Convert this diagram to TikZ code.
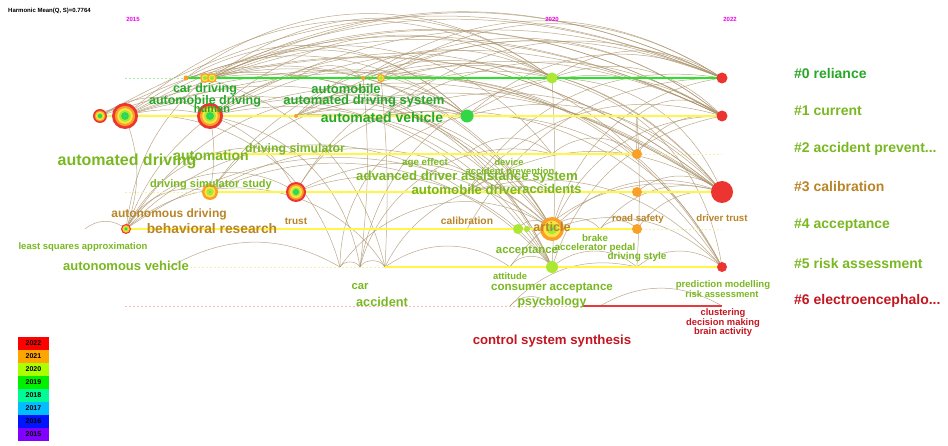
\documentclass[tikz,border=0pt]{standalone}
\usepackage{fontspec}
\setmainfont{Liberation Sans}
\usepackage{tikz}
\usetikzlibrary{positioning}

\definecolor{arcbrown}{RGB}{172,148,108}
\definecolor{kwGreen}{RGB}{40,168,40}
\definecolor{kwLime}{RGB}{122,184,34}
\definecolor{kwBrown}{RGB}{186,132,40}
\definecolor{kwRed}{RGB}{196,22,32}
\definecolor{tlYellow}{RGB}{255,246,70}
\definecolor{tlPale}{RGB}{246,240,170}
\definecolor{lnGreen}{RGB}{40,228,40}
\definecolor{lnPaleGreen}{RGB}{170,236,170}
\definecolor{lnPink}{RGB}{250,185,185}
\definecolor{lnRed}{RGB}{228,60,60}
\definecolor{yrMagenta}{RGB}{235,0,235}
% ring colours
\definecolor{ringR}{RGB}{236,52,48}
\definecolor{ringO}{RGB}{250,160,40}
\definecolor{ringY}{RGB}{250,228,70}
\definecolor{ringL}{RGB}{172,232,50}
\definecolor{ringG}{RGB}{50,214,70}
\definecolor{ringC}{RGB}{20,220,200}
% legend colours
\definecolor{yr22}{RGB}{255,0,0}
\definecolor{yr21}{RGB}{255,165,0}
\definecolor{yr20}{RGB}{170,255,0}
\definecolor{yr19}{RGB}{0,240,0}
\definecolor{yr18}{RGB}{0,250,150}
\definecolor{yr17}{RGB}{0,190,255}
\definecolor{yr16}{RGB}{0,20,255}
\definecolor{yr15}{RGB}{130,0,255}

% tree ring: name, position, radius
\newcommand{\treering}[3]{%
  \node[bub, fill=ringR, minimum size=2*#3pt] (#1) at (#2) {};
  \fill[ringO] (#2) circle[radius=0.78*#3pt];
  \fill[ringY] (#2) circle[radius=0.6*#3pt];
  \fill[ringL] (#2) circle[radius=0.45*#3pt];
  \fill[ringG] (#2) circle[radius=0.3*#3pt];
  \fill[ringC] (#2) circle[radius=0.1*#3pt];}
% orange ring: name, position, radius
\newcommand{\orangering}[3]{%
  \node[bub, fill=ringO, minimum size=2*#3pt] (#1) at (#2) {};
  \fill[ringY] (#2) circle[radius=0.7*#3pt];
  \fill[ringL] (#2) circle[radius=0.45*#3pt];
  \fill[ringC] (#2) circle[radius=0.12*#3pt];}

\begin{document}
\begin{tikzpicture}[x=1pt, y=1pt,
    link/.style={draw=arcbrown, line width=0.5pt, opacity=0.8},
    tline/.style={line width=1.8pt, draw=tlYellow},
    tdash/.style={line width=0.7pt, dash pattern=on 2pt off 2pt},
    bub/.style={circle, inner sep=0pt, draw=none},
    kw/.style={font=\bfseries\fontsize{#1}{#1}\selectfont, inner sep=0pt},
    grn/.style={text=kwGreen},
    lim/.style={text=kwLime},
    brn/.style={text=kwBrown},
    rd/.style={text=kwRed},
    clu/.style={kw=14, anchor=west},
    yearlab/.style={font=\bfseries\fontsize{6}{6}\selectfont, text=yrMagenta, inner sep=0pt},
    legbox/.style={rectangle, minimum width=31pt, minimum height=13pt, inner sep=0pt,
      font=\bfseries\fontsize{7}{7}\selectfont}
  ]

  \fill[white] (0,0) rectangle (948,-446);
  \useasboundingbox (0,0) rectangle (948,-446);

  % ---- timeline positions ----
  \foreach \n/\x/\y in {
      p0s/125/78, p0a/186/78, p0b/205/78, p0c/212/78, p0h/297/78, p0d/363/78, p0e/381/78, p0f/552/78, p0g/722/78,
      p1a/100/116, p1b/125/116, p1c/210/116, p1d/296/116, p1g/382/116, p1e/467/116, p1h/637/116, p1f/722/116,
      p2a/212/154, p2b/296/154, p2f/382/154, p2c/467/154, p2d/552/154, p2e/637/154, p2g/722/154,
      p3s/125/192, p3a/210/192, p3b/296/192, p3g/382/192, p3c/467/192, p3d/552/192, p3e/637/192, p3f/722/192,
      p4i/85/229, p4a/126/229, p4b/212/229, p4c/296/229, p4d/467/229, p4e/518/229, p4j/527/229, p4f/552/229,
      p4h/600/229, p4g/637/229, p4k/722/229,
      p5h/170/267, p5s/190/267, p5a/340/267, p5b/360/267, p5c/385/267, p5d/510/267, p5e/552/267, p5g/637/267, p5f/722/267,
      p6s/125/306, p6d/510/306, p6a/552/306, p6e/583/306, p6c/600/306, p6b/722/306}
    \coordinate (\n) at (\x,-\y);

  % ---- co-citation arcs ----
  \foreach \a in {p1a,p1b,p1c,p0b,p0c,p1d}
    \foreach \b in {p0g,p1f,p3f}
      \draw[link] (\a) to[bend left=26] (\b);
  \foreach \a in {p1b,p1c,p0a,p0c,p1d,p3a,p3b}
    \foreach \b in {p0f,p1e,p4f,p5e}
      \draw[link] (\a) to[bend left=37] (\b);
  \foreach \a in {p0d,p0e,p1g,p0f,p1e,p3c,p4f}
    \foreach \b in {p0g,p1f,p3f,p5f}
      \draw[link] (\a) to[bend left=33] (\b);
  \foreach \b/\t in {p1c/15, p0b/20, p3a/40, p3b/45, p1e/40, p3c/40, p4f/35, p5c/50, p2b/40}
    \draw[link] (p4a) to[bend left=\t] (\b);
  \foreach \a/\b/\t in {p4i/p4a/40, p1a/p1c/35, p1a/p1b/60, p1b/p4a/20, p1b/p5a/40, p1c/p5b/35,
      p0b/p5c/30, p1b/p3b/40, p0c/p2d/40, p1c/p2e/40}
    \draw[link] (\a) to[bend left=\t] (\b);
  % short arcs between neighbours
  \foreach \a/\b/\t in {p5a/p5b/60, p5b/p5c/60, p5h/p5a/30, p5c/p5d/35, p5d/p5e/60, p4e/p4f/60,
      p4f/p4h/50, p4h/p4g/50, p4g/p3f/30, p5e/p5g/40, p5g/p5f/40, p3e/p3f/40, p2e/p1f/30,
      p6d/p6a/50, p6c/p6b/30, p3c/p3d/40, p2c/p2d/40, p2d/p2e/40, p1h/p1f/40, p0h/p0d/40}
    \draw[link] (\a) to[bend left=\t] (\b);
  % rising from the lower rows
  \foreach \a/\b/\t in {p5a/p1e/40, p5b/p0f/35, p5c/p3d/40, p5d/p3f/35, p5e/p1f/30, p5a/p4f/45,
      p5b/p2d/45, p4d/p0g/30, p6d/p5g/30, p4h/p3f/35}
    \draw[link] (\a) to[bend left=\t] (\b);
  % nearly vertical
  \foreach \a/\b/\t in {p0d/p5b/6, p0e/p5c/4, p0f/p5e/3, p1c/p3a/10, p2e/p1h/5, p1h/p5g/3}
    \draw[link] (\a) to[bend left=\t] (\b);

  % ---- timelines ----
  \draw[tdash, draw=lnPaleGreen] (p0s) -- (p0a);
  \draw[line width=1.3pt, draw=lnGreen] (p0a) -- (p0g);
  \draw[tline] (p1a) -- (p1f);
  \draw[tline] (p2a) -- (p2e);
  \draw[tdash, draw=tlPale] (p2e) -- (p2g);
  \draw[tdash, draw=tlPale] (p3s) -- (p3a);
  \draw[tline] (p3a) -- (p3f);
  \draw[tline] (p4a) -- (p4g);
  \draw[tdash, draw=tlPale] (p4g) -- (p4k);
  \draw[tdash, draw=tlPale] (p5s) -- (p5c);
  \draw[tline] (p5c) -- (p5f);
  \draw[tdash, draw=lnPink] (p6s) -- (p6e);
  \draw[line width=1.2pt, draw=lnRed] (p6e) -- (p6b);

  % ---- nodes ----
  \node[bub, fill=ringO, minimum size=5pt] (n0a) at (p0a) {};
  \orangering{n0b}{p0b}{5}
  \orangering{n0c}{p0c}{5}
  \node[bub, fill=ringO, minimum size=4pt] (n0d) at (p0d) {};
  \orangering{n0e}{p0e}{4}
  \node[bub, fill=ringL, minimum size=11pt] (n0f) at (p0f) {};
  \node[bub, fill=ringR, minimum size=11pt] (n0g) at (p0g) {};

  \treering{n1a}{p1a}{7}
  \treering{n1b}{p1b}{13}
  \treering{n1c}{p1c}{13}
  \node[bub, fill=ringO, minimum size=4pt] (n1d) at (p1d) {};
  \node[bub, fill=ringG, minimum size=13pt] (n1e) at (p1e) {};
  \node[bub, fill=ringR, minimum size=11pt] (n1f) at (p1f) {};

  \node[bub, fill=ringO, minimum size=10pt] (n2e) at (p2e) {};

  \orangering{n3a}{p3a}{8}
  \treering{n3b}{p3b}{10}
  \node[bub, fill=ringO, minimum size=10pt] (n3e) at (p3e) {};
  \node[bub, fill=ringR, minimum size=22pt] (n3f) at (p3f) {};

  \treering{n4a}{p4a}{5}
  \node[bub, fill=ringL, minimum size=10pt] (n4e) at (p4e) {};
  \node[bub, fill=ringL, minimum size=6pt] (n4j) at (p4j) {};
  \orangering{n4f}{p4f}{12}
  \node[bub, fill=ringO, minimum size=10pt] (n4g) at (p4g) {};

  \node[bub, fill=ringL, minimum size=12pt] (n5e) at (p5e) {};
  \node[bub, fill=ringR, minimum size=10pt] (n5f) at (p5f) {};

  % ---- keyword labels ----
  \node[kw=12.5, grn] (carDriving) at (205,-89) {car driving};
  \node[kw=12.5, grn] (autoDriving) at (205,-101) {automobile driving};
  \node[kw=11, grn] (human) at (212,-109) {human};
  \node[kw=13, grn] (automobile) at (346,-89) {automobile};
  \node[kw=13, grn] (autoDrivSys) at (364,-101) {automated driving system};
  \node[kw=14, grn] (autoVehicle) at (382,-117) {automated vehicle};

  \node[kw=16, lim] (automatedDriving) at (127,-161) {automated driving};
  \node[kw=14, lim] (automation) at (211,-155) {automation};
  \node[kw=12.3, lim] (drivSim) at (295,-149) {driving simulator};
  \node[kw=11, lim] (drivSimStudy) at (211,-185) {driving simulator study};
  \node[kw=9.5, lim] (leastSq) at (83,-247) {least squares approximation};
  \node[kw=13, lim] (autonVehicle) at (126,-266) {autonomous vehicle};
  \node[kw=9.8, lim] (ageEffect) at (425,-163) {age effect};
  \node[kw=9.3, lim] (device) at (509,-162) {device};
  \node[kw=9.4, lim] (accPrev) at (510,-172) {accident prevention};
  \node[kw=13.2, lim] (adas) at (467,-177) {advanced driver assistance system};
  \node[kw=13.2, lim] (autoDriver) at (467,-190) {automobile driver};
  \node[kw=12.8, lim] (accidents) at (552,-189) {accidents};
  \node[kw=11.4, lim] (acceptance) at (527,-251) {acceptance};
  \node[kw=9.7, lim] (brake) at (595,-238) {brake};
  \node[kw=9.8, lim] (accPedal) at (595,-248) {accelerator pedal};
  \node[kw=10, lim] (drivStyle) at (637,-257) {driving style};
  \node[kw=9.4, lim] (attitude) at (510,-276) {attitude};
  \node[kw=11.6, lim] (consAccept) at (552,-288) {consumer acceptance};
  \node[kw=11.3, lim] (car) at (360,-287) {car};
  \node[kw=12.8, lim] (accident) at (382,-302) {accident};
  \node[kw=12.4, lim] (psychology) at (552,-302) {psychology};
  \node[kw=9.6, lim] (predModel) at (723,-285) {prediction modelling};
  \node[kw=9.4, lim] (riskAssess) at (722,-294) {risk assessment};

  \node[kw=12, brn] (autonDriving) at (169,-214) {autonomous driving};
  \node[kw=13.8, brn] (behavResearch) at (212,-229) {behavioral research};
  \node[kw=10, brn] (trust) at (296,-221) {trust};
  \node[kw=10.3, brn] (calibration) at (467,-221) {calibration};
  \node[kw=12.6, brn] (article) at (552,-227) {article};
  \node[kw=9.7, brn] (roadSafety) at (638,-219) {road safety};
  \node[kw=9.7, brn] (driverTrust) at (722,-218) {driver trust};

  \node[kw=13.2, rd] (ctrlSynth) at (552,-341) {control system synthesis};
  \node[kw=9.4, rd] (clustering) at (723,-313) {clustering};
  \node[kw=9.4, rd] (decMaking) at (723,-323) {decision making};
  \node[kw=9.4, rd] (brainAct) at (723,-332) {brain activity};

  % ---- cluster labels ----
  \node[clu, grn] (c0) at (794,-73) {\#0 reliance};
  \node[clu, lim] (c1) at (794,-111) {\#1 current};
  \node[clu, lim] (c2) at (794,-149) {\#2 accident prevent...};
  \node[clu, brn] (c3) at (794,-187) {\#3 calibration};
  \node[clu, lim] (c4) at (794,-225) {\#4 acceptance};
  \node[clu, lim] (c5) at (794,-263) {\#5 risk assessment};
  \node[clu, rd] (c6) at (794,-301) {\#6 electroencephalo...};

  % ---- header and years ----
  \node[font=\bfseries\fontsize{6}{6}\selectfont, anchor=west, inner sep=0pt] (hdr) at (8,-11)
    {Harmonic Mean(Q, S)=0.7764};
  \node[yearlab] (y2015) at (133,-19) {2015};
  \node[yearlab] (y2020) at (552,-19) {2020};
  \node[yearlab] (y2022) at (730,-19) {2022};

  % ---- legend ----
  \foreach \yr/\col [count=\i from 0] in {2022/yr22, 2021/yr21, 2020/yr20, 2019/yr19,
      2018/yr18, 2017/yr17, 2016/yr16, 2015/yr15}
    \node[legbox, fill=\col] (leg\yr) at (33.5,{-343.5-13*\i}) {\yr};

\end{tikzpicture}
\end{document}
